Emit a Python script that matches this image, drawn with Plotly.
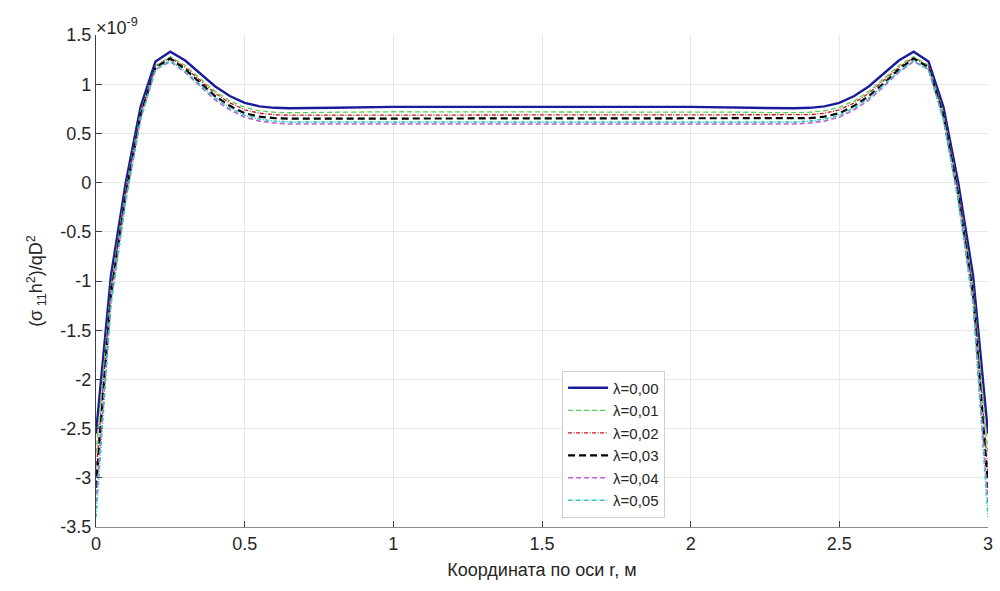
import plotly.graph_objects as go

# radial coordinate r, m
r = [0, 0.05, 0.1, 0.15, 0.2, 0.25, 0.3, 0.35, 0.4, 0.45, 0.5, 0.55, 0.6, 0.65, 0.7,
     0.8, 1.0, 1.2, 1.5, 1.8, 2.0, 2.2,
     2.3, 2.35, 2.4, 2.45, 2.5, 2.55, 2.6, 2.65, 2.7, 2.75, 2.8, 2.85, 2.9, 2.95, 3.0]

# normalised stress (sigma_11 h^2)/qD^2, in units of 1e-9
s_000 = [-2.55, -0.95, 0.00, 0.77, 1.23, 1.33, 1.24, 1.11, 0.98, 0.88, 0.81, 0.775, 0.76, 0.755, 0.755,
         0.76, 0.77, 0.77, 0.77, 0.77, 0.77, 0.76,
         0.755, 0.755, 0.76, 0.775, 0.81, 0.88, 0.98, 1.11, 1.24, 1.33, 1.23, 0.77, 0.00, -0.95, -2.55]
s_001 = [-2.75, -1.05, -0.07, 0.72, 1.19, 1.28, 1.19, 1.06, 0.93, 0.83, 0.765, 0.73, 0.715, 0.71, 0.71,
         0.715, 0.72, 0.72, 0.72, 0.72, 0.72, 0.715,
         0.71, 0.71, 0.715, 0.73, 0.765, 0.83, 0.93, 1.06, 1.19, 1.28, 1.19, 0.72, -0.07, -1.05, -2.75]
s_002 = [-2.95, -1.10, -0.10, 0.70, 1.18, 1.27, 1.17, 1.04, 0.91, 0.81, 0.74, 0.705, 0.69, 0.685, 0.685,
         0.69, 0.69, 0.69, 0.69, 0.69, 0.69, 0.69,
         0.685, 0.685, 0.69, 0.705, 0.74, 0.81, 0.91, 1.04, 1.17, 1.27, 1.18, 0.70, -0.10, -1.10, -2.95]
s_003 = [-3.10, -1.15, -0.13, 0.68, 1.17, 1.26, 1.15, 1.01, 0.88, 0.78, 0.705, 0.67, 0.655, 0.65, 0.65,
         0.65, 0.655, 0.655, 0.655, 0.655, 0.655, 0.65,
         0.65, 0.65, 0.655, 0.67, 0.705, 0.78, 0.88, 1.01, 1.15, 1.26, 1.17, 0.68, -0.13, -1.15, -3.10]
s_004 = [-3.25, -1.20, -0.16, 0.65, 1.15, 1.23, 1.12, 0.98, 0.84, 0.74, 0.665, 0.625, 0.605, 0.595, 0.595,
         0.595, 0.60, 0.60, 0.60, 0.60, 0.60, 0.595,
         0.595, 0.595, 0.605, 0.625, 0.665, 0.74, 0.84, 0.98, 1.12, 1.23, 1.15, 0.65, -0.16, -1.20, -3.25]
s_005 = [-3.40, -1.25, -0.19, 0.64, 1.15, 1.24, 1.13, 0.99, 0.86, 0.76, 0.685, 0.645, 0.625, 0.615, 0.615,
         0.62, 0.62, 0.62, 0.62, 0.62, 0.62, 0.62,
         0.615, 0.615, 0.625, 0.645, 0.685, 0.76, 0.86, 0.99, 1.13, 1.24, 1.15, 0.64, -0.19, -1.25, -3.40]

labels = ["λ=0,00", "λ=0,01", "λ=0,02", "λ=0,03", "λ=0,04", "λ=0,05"]

x_ticks = [0, 0.5, 1, 1.5, 2, 2.5, 3]
x_tick_text = ["0", "0.5", "1", "1.5", "2", "2.5", "3"]
y_ticks = [1.5, 1, 0.5, 0, -0.5, -1, -1.5, -2, -2.5, -3, -3.5]
y_tick_text = ["1.5", "1", "0.5", "0", "-0.5", "-1", "-1.5", "-2", "-2.5", "-3", "-3.5"]

series = [s_000, s_001, s_002, s_003, s_004, s_005]
styles = [
    dict(color="#1a1a9c", width=2.4, dash="solid"),
    dict(color="#55d055", width=1.3, dash="5px,3px"),
    dict(color="#c01818", width=1.3, dash="4px,1.5px,1px,1.5px"),
    dict(color="#000000", width=2.2, dash="7px,4px"),
    dict(color="#c060d0", width=1.6, dash="5px,3px"),
    dict(color="#30c8c8", width=1.6, dash="4px,1.5px,1px,1.5px"),
]

fig = go.Figure()
for ys, name, st in zip(series, labels, styles):
    fig.add_trace(go.Scatter(x=r, y=ys, mode="lines", name=name, line=st))

font = "Liberation Sans, Arial, sans-serif"
fig.update_layout(
    width=1000, height=591,
    margin=dict(l=96, r=7, t=35, b=64),
    paper_bgcolor="white", plot_bgcolor="white",
    font=dict(family=font, size=18, color="#262626"),
    showlegend=True,
    legend=dict(
        x=0.5225, y=0.318, xanchor="left", yanchor="top",
        bgcolor="white", bordercolor="#d0d0d0", borderwidth=1,
        font=dict(size=15, color="#262626"),
        tracegroupgap=0, itemwidth=40,
    ),
    xaxis=dict(
        range=[0, 3], tickvals=x_ticks, ticktext=x_tick_text,
        showgrid=True, gridcolor="#e8e8e8", gridwidth=1,
        showline=True, linecolor="#8a8a8a", linewidth=1.2,
        ticks="inside", ticklen=6, tickcolor="#404040",
        tickfont=dict(size=18),
        zeroline=False, mirror=False,
        title=dict(text="Координата по оси r, м", font=dict(size=18), standoff=10),
    ),
    yaxis=dict(
        range=[-3.5, 1.5], tickvals=y_ticks, ticktext=y_tick_text,
        showgrid=True, gridcolor="#e8e8e8", gridwidth=1,
        showline=True, linecolor="#404040", linewidth=1.2,
        ticks="inside", ticklen=6, tickcolor="#404040",
        tickfont=dict(size=18),
        zeroline=False, mirror=False,
        title=dict(text="(σ<sub> 11</sub>h<sup>2</sup>)/qD<sup>2</sup>", font=dict(size=18), standoff=12),
    ),
)

fig.add_annotation(
    x=0, y=1.0, xref="paper", yref="paper", xanchor="left", yanchor="bottom",
    text="×10<sup>-9</sup>", showarrow=False, font=dict(size=18, color="#262626"),
    yshift=-5, xshift=-2,
)

fig.write_html("out.html")
